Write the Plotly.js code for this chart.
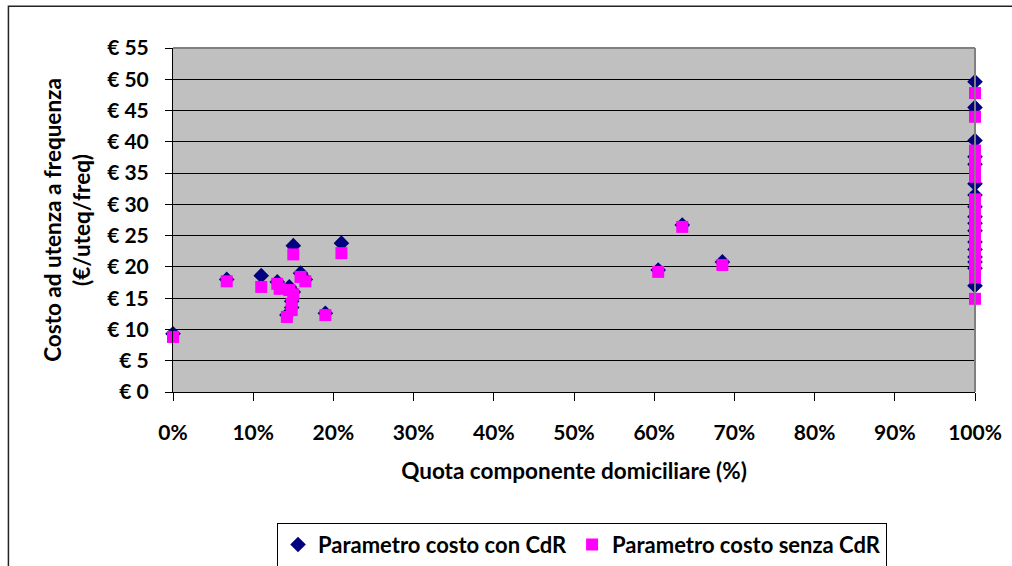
<!DOCTYPE html>
<html>
<head>
<meta charset="utf-8">
<script src="https://cdn.plot.ly/plotly-3.0.1.min.js"></script>
<style>html,body{margin:0;padding:0;background:#fff;}#chart{width:1012px;height:566px;}</style>
</head>
<body>
<div id="chart"></div>
<script>
// Quota componente domiciliare (fraction)
const quota = [0.000, 0.067, 0.110, 0.130, 0.133, 0.145, 0.150, 0.148, 0.148, 0.142, 0.150, 0.159, 0.165, 0.190, 0.210,
  0.605, 0.635, 0.685,
  1, 1, 1, 1, 1, 1, 1, 1, 1, 1, 1, 1, 1, 1, 1, 1, 1];
// Parametro costo con CdR (€/uteq/freq)
const costoCon = [9.3, 18.0, 18.6, 17.6, 16.8, 16.8, 16.0, 14.5, 13.5, 12.3, 23.4, 19.0, 18.0, 12.6, 23.8,
  19.5, 26.7, 20.8,
  49.6, 45.5, 40.2, 37.6, 36.4, 33.3, 31.5, 29.6, 28.0, 27.0, 25.8, 24.0, 22.8, 21.6, 20.8, 19.8, 17.0];
// Parametro costo senza CdR (€/uteq/freq)
const costoSenza = [8.8, 17.7, 16.8, 17.3, 16.5, 16.3, 15.6, 14.1, 13.1, 12.0, 22.0, 18.4, 17.7, 12.3, 22.2,
  19.2, 26.4, 20.3,
  47.8, 44.0, 38.6, 37.2, 35.6, 34.4, 30.8, 29.0, 27.6, 26.2, 25.0, 23.4, 22.2, 21.0, 20.0, 18.3, 14.9];
const seriesNames = ["Parametro costo con CdR", "Parametro costo senza CdR"];

const F = "Lato, 'Liberation Sans', sans-serif";
const traces = [
  {x: quota, y: costoCon, name: seriesNames[0], type: "scatter", mode: "markers", cliponaxis: false,
   marker: {symbol: "diamond", size: 12, color: "#000080"}},
  {x: quota, y: costoSenza, name: seriesNames[1], type: "scatter", mode: "markers", cliponaxis: false,
   marker: {symbol: "square", size: 12, color: "#FF00FF"}}
];
const layout = {
  width: 1012, height: 566,
  margin: {l: 173, r: 37, t: 47.5, b: 174, autoexpand: false},
  paper_bgcolor: "#ffffff", plot_bgcolor: "#C0C0C0",
  font: {family: F, size: 21, color: "#000", weight: 700},
  showlegend: true,
  legend: {orientation: "h", x: 0.1297, xanchor: "left", y: -0.38, yanchor: "top",
    bordercolor: "#000", borderwidth: 1, bgcolor: "#fff",
    font: {family: F, size: 22, color: "#000", weight: 700}, itemwidth: 30},
  xaxis: {range: [0, 1], dtick: 0.1, tick0: 0, tickformat: ".0%", showgrid: false, zeroline: false,
    showline: true, linecolor: "#000", linewidth: 1, ticks: "outside", ticklen: 8, tickcolor: "#000",
    ticklabelstandoff: 14, tickfont: {family: F, size: 21, weight: 700},
    title: {text: "Quota componente domiciliare (%)", font: {family: F, size: 22.5, weight: 700}, standoff: 20}},
  yaxis: {range: [0, 55], dtick: 5, tick0: 0, tickprefix: "€ ", showgrid: true, gridcolor: "#000", gridwidth: 1,
    zeroline: false, showline: true, linecolor: "#000", linewidth: 1, ticks: "outside", ticklen: 7, tickcolor: "#000",
    ticklabelstandoff: 12, tickfont: {family: F, size: 21, weight: 700},
    title: {text: "Costo ad utenza a frequenza<br>(€/uteq/freq)", font: {family: F, size: 22.5, weight: 700}, standoff: 10}},
  shapes: [
    {type: "line", xref: "paper", yref: "paper", x0: 0, x1: 1, y0: 1, y1: 1, line: {color: "#808080", width: 2}},
    {type: "line", xref: "paper", yref: "paper", x0: 1, x1: 1, y0: 0, y1: 1, line: {color: "#808080", width: 2}},
    {type: "rect", xref: "paper", yref: "paper", x0: -0.2052, x1: 1.2, y0: -1, y1: 1.1213,
     line: {color: "#222", width: 1.5}, layer: "below"}
  ]
};
Plotly.newPlot("chart", traces, layout, {displayModeBar: false, staticPlot: true});
</script>
</body>
</html>
